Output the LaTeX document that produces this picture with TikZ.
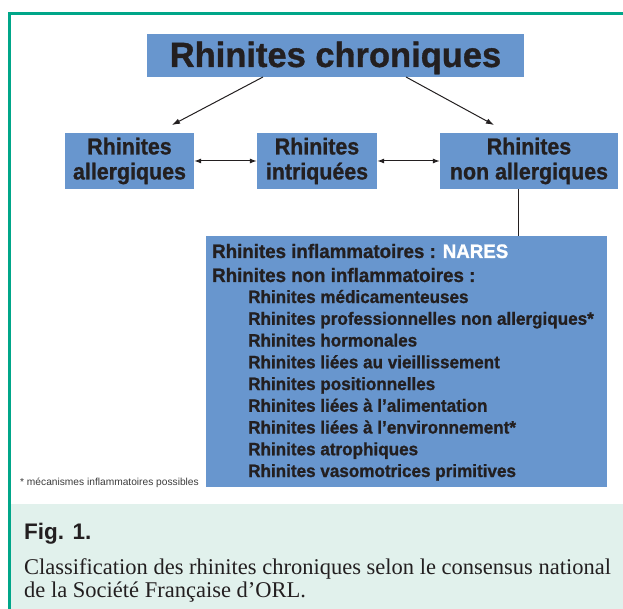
\documentclass[tikz,border=0pt]{standalone}
\usepackage{fontspec}
\setmainfont{Liberation Serif}
\newfontfamily\tf[FakeStretch=0.985,FakeBold=1]{Liberation Sans}
\newfontfamily\cf[FakeStretch=0.93,FakeBold=1]{Liberation Sans}
\newfontfamily\lf[FakeStretch=0.96,FakeBold=1]{Liberation Sans}
\newfontfamily\lsans{Liberation Sans}
\usetikzlibrary{arrows.meta}
\definecolor{boxblue}{RGB}{104,150,206}
\definecolor{txt}{RGB}{35,31,32}
\definecolor{frame}{RGB}{0,166,137}
\definecolor{capbg}{RGB}{225,241,236}
\definecolor{foot}{RGB}{60,60,60}
\tikzset{
  bbox/.style={fill=boxblue, inner sep=0pt, text=txt, align=center},
  lvl/.style={bbox, minimum height=56pt, font=\cf\bfseries\fontsize{23}{25}\selectfont},
  hdr/.style={anchor=base west, inner sep=0pt, text=txt, font=\lf\bfseries\fontsize{19.5}{20}\selectfont},
  item/.style={anchor=base west, inner sep=0pt, text=txt, font=\lf\bfseries\fontsize{17.8}{19}\selectfont},
  arr/.style={draw=txt, line width=1pt, -{Latex[length=8pt,width=5.5pt]}},
  darr/.style={draw=txt, line width=1pt, {Latex[length=7pt,width=5pt]}-{Latex[length=7pt,width=5pt]}},
  conn/.style={draw=txt, line width=1pt},
  captxt/.style={anchor=base west, inner sep=0pt, text=txt, font=\fontsize{22.5}{23}\selectfont}
}
\begin{document}
\begin{tikzpicture}[x=1pt,y=-1pt]
\useasboundingbox (0,0) rectangle (623,609);
\fill[white] (0,0) rectangle (623,609);
\fill[capbg] (10,504) rectangle (623,609);
\draw[frame, line width=2.5pt] (9.7,609) -- (9.7,13.5) -- (623,13.5);

\node[bbox, minimum width=377pt, minimum height=43pt, text height=25pt, text depth=2pt,
      font=\tf\bfseries\fontsize{35}{35}\selectfont] (title) at (335.5,55.5) {Rhinites chroniques};

\node[lvl, minimum width=129pt] (allerg) at (129.5,161) {Rhinites\\allergiques};
\node[lvl, minimum width=120pt] (intriq) at (317,161) {Rhinites\\intriquées};
\node[lvl, minimum width=178pt] (nonall) at (529,161) {Rhinites\\non allergiques};

\coordinate (a1s) at (263,77);
\coordinate (a1e) at (172,125);
\coordinate (a2s) at (406,77);
\coordinate (a2e) at (494,125);
\draw[arr] (a1s) -- (a1e);
\draw[arr] (a2s) -- (a2e);
\draw[darr] (allerg) -- (intriq);
\draw[darr] (intriq) -- (nonall);

\node[fill=boxblue, minimum width=401pt, minimum height=251pt, inner sep=0pt] (list) at (406.5,361.5) {};
\coordinate (vx) at (518,0);
\draw[conn] (nonall.south -| vx) -- (list.north -| vx);

\node[hdr] (l1) at (212,258) {Rhinites inflammatoires : \textcolor{white}{NARES}};
\node[hdr] (l2) at (212,282) {Rhinites non inflammatoires :};
\node[item] (l3) at (248,303) {Rhinites médicamenteuses};
\node[item] (l4) at (248,324.75) {Rhinites professionnelles non allergiques*};
\node[item] (l5) at (248,346.5) {Rhinites hormonales};
\node[item] (l6) at (248,368.25) {Rhinites liées au vieillissement};
\node[item] (l7) at (248,390) {Rhinites positionnelles};
\node[item] (l8) at (248,411.75) {Rhinites liées à l’alimentation};
\node[item] (l9) at (248,433.5) {Rhinites liées à l’environnement*};
\node[item] (l10) at (248,455.25) {Rhinites atrophiques};
\node[item] (l11) at (248,477) {Rhinites vasomotrices primitives};

\node[anchor=base west, inner sep=0pt, text=foot, font=\lsans\fontsize{10.2}{12}\selectfont] (fn) at (20,485) {* mécanismes inflammatoires possibles};

\node[anchor=base west, inner sep=0pt, text=txt, font=\lsans\bfseries\fontsize{22.5}{24}\selectfont] (fig) at (24,539) {Fig. 1.};
\node[captxt] (cap1) at (24,574) {Classification des rhinites chroniques selon le consensus national};
\node[captxt] (cap2) at (24,597) {de la Société Française d’ORL.};
\end{tikzpicture}
\end{document}
